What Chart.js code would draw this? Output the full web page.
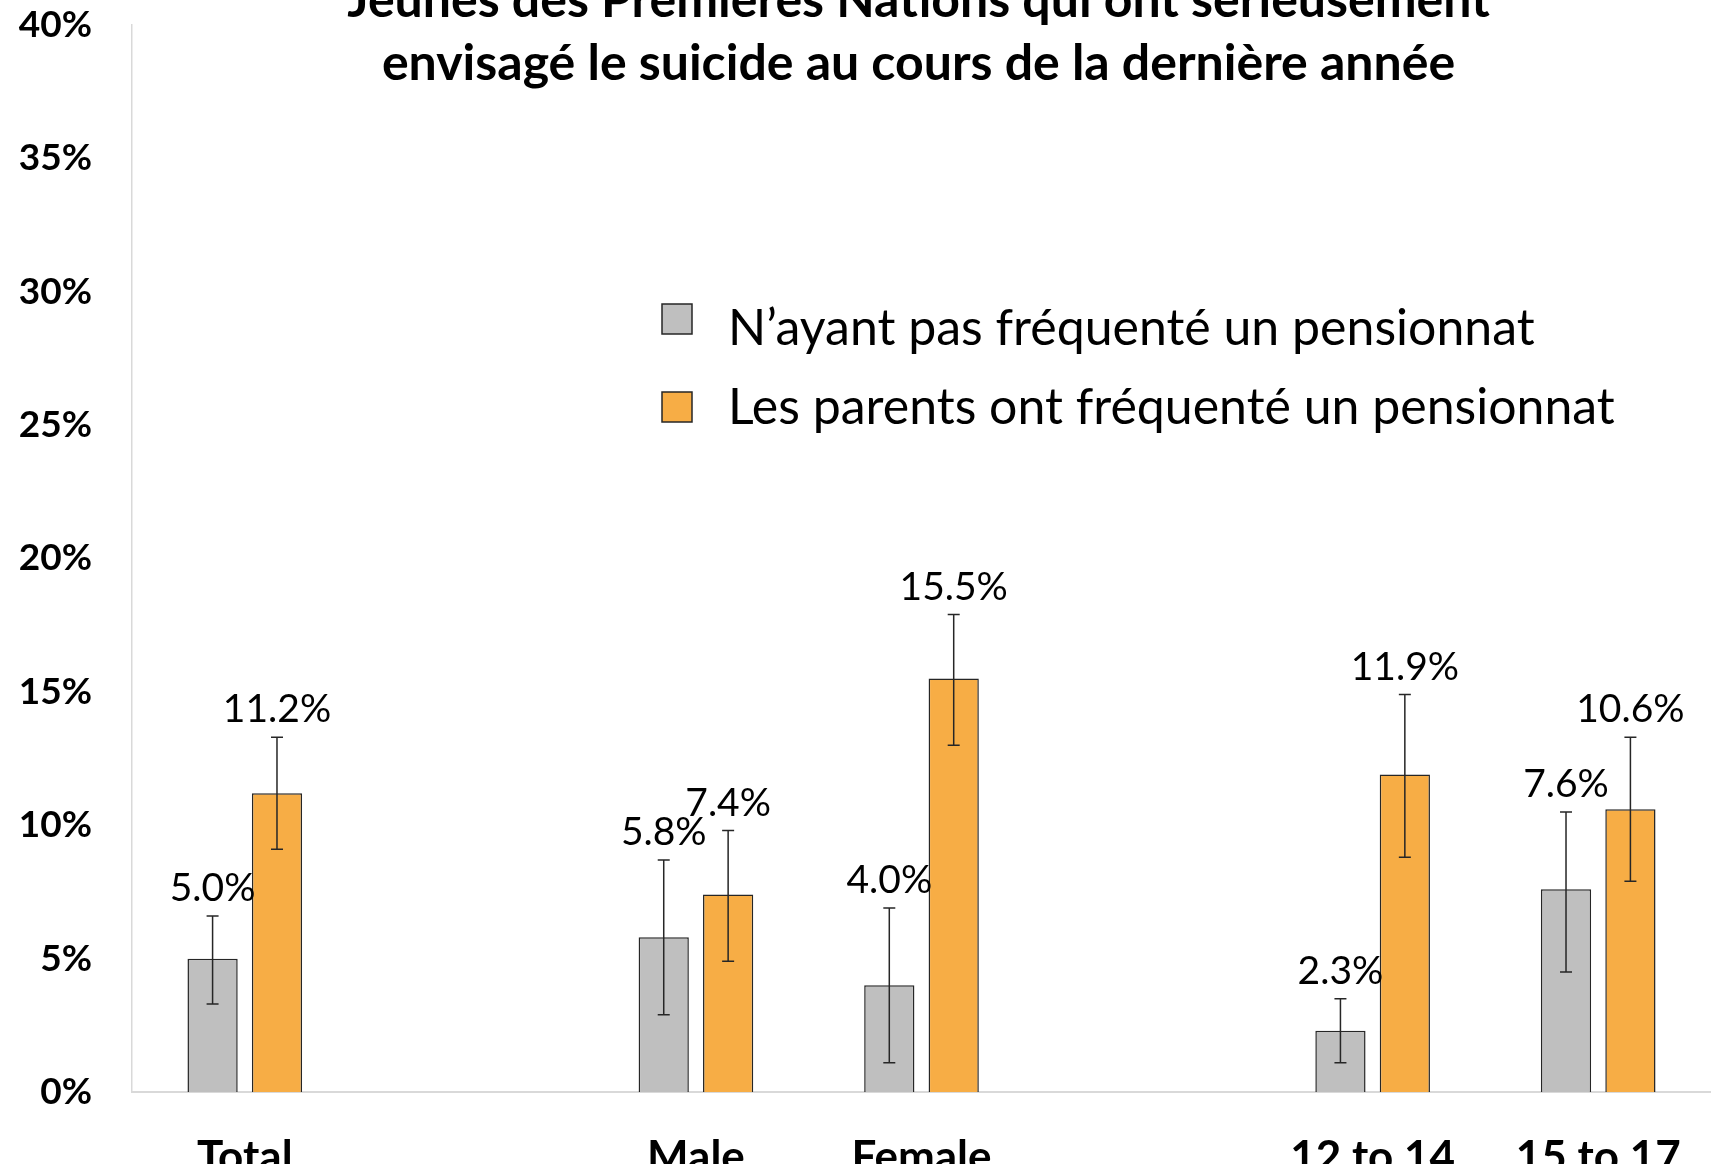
<!DOCTYPE html>
<html>
<head>
<meta charset="utf-8">
<script src="https://cdn.jsdelivr.net/npm/chart.js@4"></script>
<style>
  html, body { margin: 0; padding: 0; background: #fff; }
  #wrap { width: 1711px; height: 1164px; position: relative; }
</style>
</head>
<body>
<div id="wrap"><canvas id="c"></canvas></div>
<script>
// ---- data ----
const categories = ['Total', '', 'Male', 'Female', '', '12 to 14', '15 to 17'];
const seriesLabels = ['N\u2019ayant pas fréquenté un pensionnat', 'Les parents ont fréquenté un pensionnat'];
const notAttended = [5.0, null, 5.8, 4.0, null, 2.3, 7.6];
const parentsAttended = [11.2, null, 7.4, 15.5, null, 11.9, 10.6];
const notAttendedLow = [3.3, null, 2.9, 1.1, null, 1.1, 4.5];
const notAttendedHigh = [6.6, null, 8.7, 6.9, null, 3.5, 10.5];
const parentsLow = [9.1, null, 4.9, 13.0, null, 8.8, 7.9];
const parentsHigh = [13.3, null, 9.8, 17.9, null, 14.9, 13.3];
const titleLines = ['Jeunes des Premières Nations qui ont sérieusement', 'envisagé le suicide au cours de la dernière année'];

const colors = ['#BFBFBF', '#F7AD45'];
const lows = [notAttendedLow, parentsLow];
const highs = [notAttendedHigh, parentsHigh];

const errorBars = {
  id: 'errorBars',
  afterDatasetsDraw(chart) {
    const ctx = chart.ctx, y = chart.scales.y;
    ctx.save();
    ctx.strokeStyle = '#262626';
    ctx.lineWidth = 1.5;
    chart.data.datasets.forEach((ds, i) => {
      const meta = chart.getDatasetMeta(i);
      meta.data.forEach((bar, j) => {
        if (ds.data[j] == null) return;
        const x = bar.x;
        const yl = y.getPixelForValue(lows[i][j]);
        const yh = y.getPixelForValue(highs[i][j]);
        ctx.beginPath();
        ctx.moveTo(x, yl); ctx.lineTo(x, yh);
        ctx.moveTo(x - 6, yl); ctx.lineTo(x + 6, yl);
        ctx.moveTo(x - 6, yh); ctx.lineTo(x + 6, yh);
        ctx.stroke();
      });
    });
    // value labels
    ctx.fillStyle = '#000';
    ctx.font = '39px Lato';
    ctx.textAlign = 'center';
    ctx.textBaseline = 'alphabetic';
    chart.data.datasets.forEach((ds, i) => {
      const meta = chart.getDatasetMeta(i);
      meta.data.forEach((bar, j) => {
        if (ds.data[j] == null) return;
        const yh = y.getPixelForValue(highs[i][j]);
        ctx.fillText(ds.data[j].toFixed(1) + '%', bar.x, yh - 15);
      });
    });
    ctx.restore();
  }
};

const overlay = {
  id: 'overlay',
  afterDraw(chart) {
    const ctx = chart.ctx, area = chart.chartArea;
    ctx.save();
    // title
    ctx.fillStyle = '#000';
    ctx.font = 'bold 50px Lato';
    ctx.textAlign = 'center';
    ctx.textBaseline = 'alphabetic';
    const cx = (area.left + area.right) / 2 - 3;
    ctx.fillText(titleLines[0], cx, 17);
    ctx.fillText(titleLines[1], cx, 80);
    // legend
    const boxTops = [304, 392];
    const baselines = [345, 424];
    ctx.textAlign = 'left';
    ctx.font = '50px Lato';
    chart.data.datasets.forEach((ds, i) => {
      ctx.fillStyle = ds.backgroundColor;
      ctx.fillRect(662, boxTops[i], 30, 30);
      ctx.strokeStyle = '#262626';
      ctx.lineWidth = 1.5;
      ctx.strokeRect(662, boxTops[i], 30, 30);
      ctx.fillStyle = '#000';
      ctx.fillText(ds.label, 728, baselines[i]);
    });
    ctx.restore();
  }
};

new Chart(document.getElementById('c'), {
  type: 'bar',
  data: {
    labels: categories,
    datasets: [
      { label: seriesLabels[0], data: notAttended, backgroundColor: colors[0], borderColor: '#262626', borderWidth: 1.5 },
      { label: seriesLabels[1], data: parentsAttended, backgroundColor: colors[1], borderColor: '#262626', borderWidth: 1.5 }
    ]
  },
  options: {
    responsive: true,
    maintainAspectRatio: false,
    animation: false,
    categoryPercentage: 0.571,
    barPercentage: 0.78,
    layout: { padding: { top: 25, right: 0, left: 0, bottom: 0 } },
    plugins: { legend: { display: false }, title: { display: false }, tooltip: { enabled: false } },
    scales: {
      x: {
        grid: { display: false },
        border: { color: '#D9D9D9', width: 2 },
        ticks: { color: '#000', font: { family: 'Lato', size: 44, weight: 'bold' }, padding: 31, maxRotation: 0, autoSkip: false },
        afterFit(s) { s.height = 72; s.paddingLeft = 0; s.paddingRight = 0; }
      },
      y: {
        min: 0, max: 40,
        grid: { display: false },
        border: { color: '#D9D9D9', width: 1.5 },
        ticks: { stepSize: 5, color: '#000', font: { family: 'Lato', size: 37, weight: 'bold' }, padding: 32, callback: v => v + '%' },
        afterFit(s) { s.width = 132; s.paddingTop = 0; s.paddingBottom = 0; }
      }
    }
  },
  plugins: [errorBars, overlay]
});
</script>
</body>
</html>
